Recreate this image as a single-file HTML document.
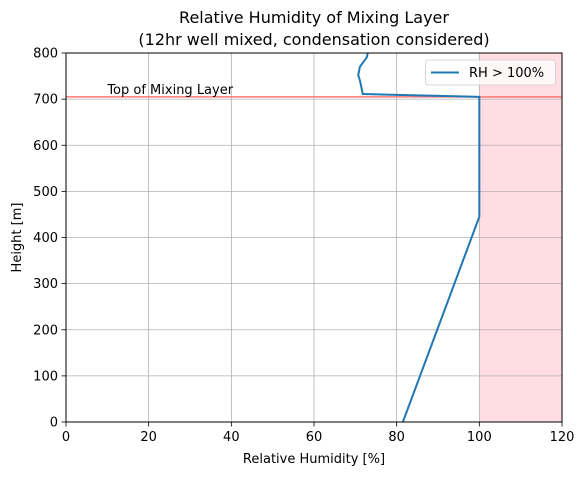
<!DOCTYPE html>
<html><head><meta charset="utf-8"><style>
body{margin:0;background:#fff;}
svg text{font-family:"DejaVu Sans","Liberation Sans",sans-serif;}
</style></head><body>
<svg id="chart" width="584" height="476" xmlns="http://www.w3.org/2000/svg">
<g id="bg"></g><g id="grid"></g><g id="marks"></g><g id="axes"></g>
</svg>
<script>
const rhValues=[81.5,100,100,71.8,71.5,71.1,70.7,71.1,72.8,73];
const heightValues=[0,445,705,711,724,741,752,770,791,800];
const xTicks=[0,20,40,60,80,100,120];
const yTicks=[0,100,200,300,400,500,600,700,800];
const mixTop=705;
const shadeFrom=100;
const X0=66,X1=562,Y0=422,Y1=53;
const sx=v=>X0+(v-0)/120*(X1-X0);
const sy=v=>Y0-(v-0)/800*(Y0-Y1);
const NS='http://www.w3.org/2000/svg';
function mk(tag,attrs,parent,txt){const e=document.createElementNS(NS,tag);for(const k in attrs)e.setAttribute(k,attrs[k]);if(txt!==undefined)e.textContent=txt;document.getElementById(parent).appendChild(e);return e;}
let e;
e=mk('rect',{x:sx(shadeFrom),y:Y1,width:sx(120)-sx(shadeFrom),height:Y0-Y1,fill:'#ffdde2'},'bg');


xTicks.forEach(t=>{
e=mk('line',{x1:sx(t),x2:sx(t),y1:Y1,y2:Y0,stroke:'#b0b0b0','stroke-width':0.8},'grid');


e=mk('line',{x1:sx(t),x2:sx(t),y1:Y0,y2:Y0+4.5,stroke:'#000','stroke-width':0.8},'axes');


e=mk('text',{x:sx(t),y:Y0+19,'text-anchor':'middle','font-size':13},'axes',String(t));


});
yTicks.forEach(t=>{
e=mk('line',{x1:X0,x2:X1,y1:sy(t),y2:sy(t),stroke:'#b0b0b0','stroke-width':0.8},'grid');


e=mk('line',{x1:X0-4.5,x2:X0,y1:sy(t),y2:sy(t),stroke:'#000','stroke-width':0.8},'axes');


e=mk('text',{x:X0-8,y:sy(t)+4.5,'text-anchor':'end','font-size':13},'axes',String(t));


});
e=mk('line',{x1:X0,x2:X1,y1:sy(mixTop),y2:sy(mixTop),stroke:'#f77','stroke-width':1.5},'marks');


e=mk('text',{x:sx(10),y:sy(mixTop)-3,'font-size':13},'marks','Top of Mixing Layer');


e=mk('polyline',{points:rhValues.map((v,i)=>sx(v)+','+sy(heightValues[i])).join(' '),fill:'none',stroke:'#1f77b4','stroke-width':2},'marks');


e=mk('rect',{x:X0,y:Y1,width:X1-X0,height:Y0-Y1,fill:'none',stroke:'#000','stroke-width':1},'axes');


e=mk('rect',{x:425.5,y:60,width:130,height:25,rx:3,fill:'rgba(255,255,255,0.8)',stroke:'#ccc','stroke-width':0.8},'axes');


e=mk('line',{x1:431,x2:459,y1:72.5,y2:72.5,stroke:'#1f77b4','stroke-width':2},'axes');


e=mk('text',{x:469,y:77,'font-size':13},'axes','RH > 100%');


e=mk('text',{x:314,y:23,'text-anchor':'middle','font-size':16},'axes','Relative Humidity of Mixing Layer');


e=mk('text',{x:314,y:45,'text-anchor':'middle','font-size':16},'axes','(12hr well mixed, condensation considered)');


e=mk('text',{x:314,y:463,'text-anchor':'middle','font-size':13},'axes','Relative Humidity [%]');


e=mk('text',{x:0,y:0,'text-anchor':'middle','font-size':13,transform:'translate(21,237.5) rotate(-90)'},'axes','Height [m]');


</script>
</body></html>
